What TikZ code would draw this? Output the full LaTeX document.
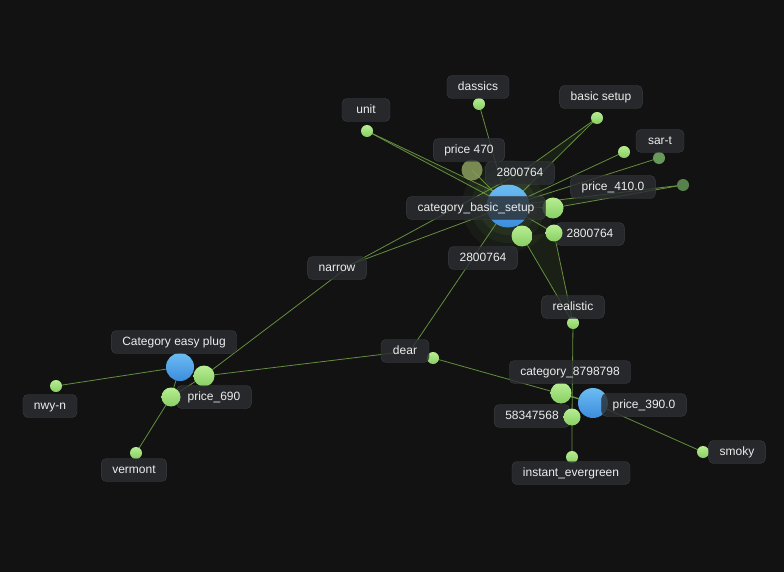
\documentclass[tikz,border=0pt]{standalone}
\usepackage{fontspec}
\setmainfont{Liberation Sans}

\definecolor{bgdark}{HTML}{121212}
\definecolor{boxfill}{HTML}{2B2E31}
\definecolor{boxline}{HTML}{3C3F43}
\definecolor{labeltext}{HTML}{EDEDED}
\definecolor{edgegreen}{HTML}{72A446}
\definecolor{leaftop}{HTML}{B8EE92}
\definecolor{leafbot}{HTML}{88CE64}
\definecolor{bluetop}{HTML}{6CBCF3}
\definecolor{bluebot}{HTML}{3C8DDC}
\definecolor{olive}{HTML}{8A9E5E}
\definecolor{dullgreen}{HTML}{66995A}

\tikzset{
  lbl/.style={draw=boxline, fill=boxfill, fill opacity=0.82, text opacity=1,
    rounded corners=5pt, text=labeltext, font=\fontsize{12}{14}\selectfont,
    inner xsep=11pt, minimum width=48pt, minimum height=23pt,
    text height=8.8pt, text depth=2.6pt},
  dot/.style={circle, inner sep=0pt, top color=leaftop, bottom color=leafbot, minimum size=#1},
  dot/.default=12pt,
  bluedot/.style={circle, inner sep=0pt, top color=bluetop, bottom color=bluebot, minimum size=#1},
  dimdot/.style={circle, inner sep=0pt, fill=#1, minimum size=12pt},
  link/.style={draw=edgegreen, line width=0.8pt, opacity=0.85},
  fan/.style={fill=edgegreen, opacity=0.10}
}

\begin{document}
\begin{tikzpicture}[x=1pt,y=-1pt]
  \fill[bgdark] (0,0) rectangle (784,572);
  \useasboundingbox (0,0) rectangle (784,572);

  % Define coordinates
  \coordinate (hub) at (508,206);
  \coordinate (hubnw) at (493,191);
  \coordinate (p470) at (472,170);
  \coordinate (top) at (520,173);
  \coordinate (g1) at (553,208);
  \coordinate (b1) at (522,236);
  \coordinate (b2) at (554,233);
  \coordinate (unit) at (367,131);
  \coordinate (dassics) at (479,104);
  \coordinate (basic) at (597,118);
  \coordinate (e1) at (624,152);
  \coordinate (sart) at (659,158);
  \coordinate (e2) at (683,185);
  \coordinate (narrow) at (352,264);
  \coordinate (dear) at (410,351);
  \coordinate (dearg) at (433,358);
  \coordinate (realistic) at (573,323);
  \coordinate (c87) at (561,393);
  \coordinate (p390) at (593,403);
  \coordinate (d58) at (572,417);
  \coordinate (instant) at (572,457);
  \coordinate (smoky) at (703,452);
  \coordinate (cep) at (180,367);
  \coordinate (cepg) at (204,376);
  \coordinate (p690) at (171,397);
  \coordinate (nwy) at (56,386);
  \coordinate (vermont) at (136,453);

  % Glow round the hub
  \foreach \r/\o in {46/0.05,37/0.06,29/0.08} {
    \fill[leafbot, opacity=\o] (hub) circle (\r pt);
  }

  % Fans between close edges
  \fill[fan] (unit) -- (hub) -- (hubnw) -- cycle;
  \fill[fan] (basic) -- (hub) -- (top) -- cycle;
  \fill[fan] (realistic) -- (b1) -- (b2) -- cycle;
  \fill[fan] (e2) -- (g1) -- (hub) -- cycle;

  % Draw edges
  \draw[link] (unit) -- (hub);
  \draw[link] (unit) -- (hubnw);
  \draw[link] (dassics) -- (hub);
  \draw[link] (p470) -- (hub);
  \draw[link] (basic) -- (hub);
  \draw[link] (basic) -- (top);
  \draw[link] (e1) -- (hub);
  \draw[link] (sart) -- (hub);
  \draw[link] (e2) -- (g1);
  \draw[link] (e2) -- (hub);
  \draw[link] (g1) -- (hub);
  \draw[link] (b1) -- (hub);
  \draw[link] (b2) -- (hub);
  \draw[link] (b1) -- (realistic);
  \draw[link] (b2) -- (realistic);
  \draw[link] (realistic) -- (d58) -- (instant);
  \draw[link] (c87) -- (p390);
  \draw[link] (dearg) -- (p390);
  \draw[link] (p390) -- (smoky);
  \draw[link] (hub) -- (dear);
  \draw[link] (narrow) -- (hub);
  \draw[link] (narrow) -- (top);
  \draw[link] (cepg) -- (narrow);
  \draw[link] (cepg) -- (dear);
  \draw[link] (nwy) -- (cep);
  \draw[link] (vermont) -- (p690) -- (cep);
  \draw[link] (p690) -- (cepg);

  % Draw dots
  \node[bluedot=43pt] (hub-dot) at (hub) {};
  \node[circle, inner sep=0pt, minimum size=21pt, fill=olive, opacity=0.85] (p470-dot) at (p470) {};
  \node[dot=21pt] (g1-dot) at (g1) {};
  \node[dot=21pt] (b1-dot) at (b1) {};
  \node[dot] (unit-dot) at (unit) {};
  \node[dot] (dassics-dot) at (dassics) {};
  \node[dot] (basic-dot) at (basic) {};
  \node[dot] (e1-dot) at (e1) {};
  \node[dimdot=dullgreen] (sart-dot) at (sart) {};
  \node[dimdot=dullgreen!85!black] (e2-dot) at (e2) {};
  \node[dot] (dear-dot) at (dearg) {};
  \node[dot] (realistic-dot) at (realistic) {};
  \node[dot=21pt] (c87-dot) at (c87) {};
  \node[bluedot=30pt] (p390-dot) at (p390) {};
  \node[dot] (instant-dot) at (instant) {};
  \node[dot] (smoky-dot) at (smoky) {};
  \node[bluedot=28pt] (cep-dot) at (cep) {};
  \node[dot=21pt] (cepg-dot) at (cepg) {};
  \node[dot] (nwy-dot) at (nwy) {};
  \node[dot] (vermont-dot) at (vermont) {};

  % Add labels
  \node[lbl] (l-unit) at (366,110) {unit};
  \node[lbl] (l-dassics) at (478,87) {dassics};
  \node[lbl] (l-basic) at (601,97) {basic setup};
  \node[lbl] (l-sart) at (660,141) {sar-t};
  \node[lbl] (l-p470) at (469,150) {price 470};
  \node[lbl] (l-top) at (520,173) {2800764};
  \node[lbl] (l-p410) at (613,187) {price\_410.0};
  \node[lbl] (l-hub) at (476,208) {category\_basic\_setup};
  \node[lbl] (l-b2) at (590,234) {2800764};
  \node[lbl] (l-b1) at (483,258) {2800764};
  \node[lbl] (l-narrow) at (337,268) {narrow};
  \node[lbl] (l-dear) at (405,351) {dear};
  \node[lbl] (l-realistic) at (573,307) {realistic};
  \node[lbl] (l-c87) at (570,372) {category\_8798798};
  \node[lbl] (l-p390) at (644,405) {price\_390.0};
  \node[lbl] (l-d58) at (532,416) {58347568};
  \node[lbl] (l-instant) at (571,473) {instant\_evergreen};
  \node[lbl] (l-smoky) at (737,452) {smoky};
  \node[lbl] (l-cep) at (174,342) {Category easy plug};
  \node[lbl] (l-p690) at (214,397) {price\_690};
  \node[lbl] (l-nwy) at (50,406) {nwy-n};
  \node[lbl] (l-vermont) at (134,470) {vermont};

  % Dots that sit over their labels
  \node[dot=17pt] (b2-dot) at (b2) {};
  \node[dot=17pt] (d58-dot) at (d58) {};
  \node[dot=19pt] (p690-dot) at (p690) {};
\end{tikzpicture}
\end{document}
